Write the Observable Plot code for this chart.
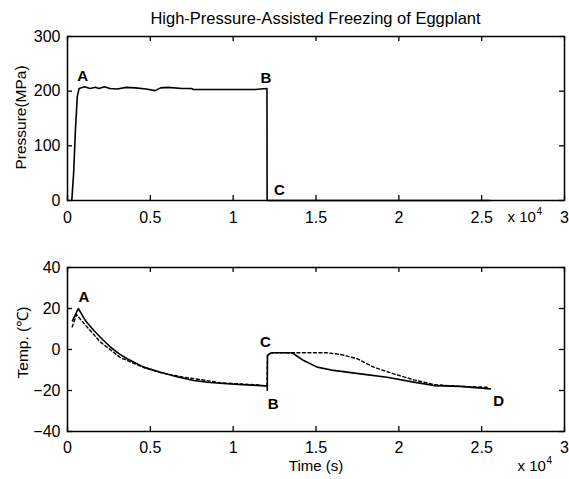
<!DOCTYPE html>
<html><head><meta charset="utf-8">
<script src="https://cdn.jsdelivr.net/npm/d3@7"></script>
<script src="https://cdn.jsdelivr.net/npm/@observablehq/plot@0.6"></script>
<style>
body{margin:0;background:#fff;}
#wrap{position:relative;width:569px;height:479px;overflow:hidden;background:#fff;font-family:"Liberation Sans",Arial,sans-serif;}
#title{position:absolute;top:9px;left:0;width:631px;text-align:center;font-size:16.5px;color:#000;}
#topPanel{position:absolute;left:0;top:0;}
#botPanel{position:absolute;left:0;top:240px;}
</style>
</head><body>
<div id="wrap">
  <div id="topPanel"></div>
  <div id="botPanel"></div>
  <div id="title">High-Pressure-Assisted Freezing of Eggplant</div>
</div>
<script>
// ---- data ----
const xTicks = [0, 5000, 10000, 15000, 20000, 25000, 30000];
const xTickLabels = ["0", "0.5", "1", "1.5", "2", "2.5", "3"];
const pTicks = [0, 100, 200, 300];
const tTicks = [-40, -20, 0, 20, 40];

// pressure trace
const pTime = [260, 370, 480, 590, 700, 1030, 1360, 1690, 1900, 2230, 2560, 3000, 3550, 4100, 4750, 5290, 5620, 6060, 6930, 7480, 7600, 9130, 11320, 12040, 12050, 12100, 25500];
const pValue = [0, 50, 130, 190, 205, 208, 205, 207, 205, 208, 205, 204, 207, 206, 204, 201, 206, 207, 205, 205, 203, 203, 203, 205, 0, 0, 0];

// temperature, solid trace
const tSolidTime = [300, 650, 800, 1090, 1590, 2100, 2600, 3100, 3600, 4600, 5610, 6600, 7620, 8600, 9640, 10600, 11650, 12050, 12060, 12070, 12200, 12400, 13000, 13560, 14260, 15070, 16070, 17680, 19290, 20900, 22110, 23720, 25530];
const tSolidValue = [14, 20, 18, 14, 9.3, 5, 1.1, -2, -4.5, -8.6, -11.1, -13.3, -15.1, -16.1, -16.7, -17.2, -17.6, -17.8, -20, -3, -2, -1.6, -1.6, -1.6, -5.4, -8.6, -10.2, -11.9, -13.5, -15.9, -17.6, -18, -19.2];

// temperature, dashed trace
const tDashTime = [280, 550, 800, 1190, 1990, 3200, 4600, 5610, 7000, 8300, 9300, 11400, 12050, 12070, 12200, 12400, 15670, 16470, 17480, 18490, 19690, 20900, 22110, 23720, 25330];
const tDashValue = [11, 17, 14.5, 10.9, 3.6, -4, -8.8, -11.3, -13.5, -15, -16.3, -17.2, -17.8, -3, -2, -1.6, -1.6, -2.4, -4.5, -8.6, -11.9, -14.8, -17.1, -18, -18.4];

// point labels
const pLabelText = ["A", "B", "C"];
const pLabelTime = [920, 11980, 12790];
const pLabelValue = [227, 224, 18];
const tLabelText = ["A", "B", "C", "D"];
const tLabelTime = [985, 12410, 11950, 26030];
const tLabelValue = [25.5, -26.5, 3.6, -25.2];

// ---- build ----
const FONT = '"Liberation Sans", Arial, sans-serif';
const W = 569, ML = 67, MR = 5, PH = 164;
const PW = W - ML - MR;
const TICK = 5;
const pSeries = pTime.map((t, i) => ({t, v: pValue[i]}));
const sSeries = tSolidTime.map((t, i) => ({t, v: tSolidValue[i]}));
const dSeries = tDashTime.map((t, i) => ({t, v: tDashValue[i]}));
const pLabels = pLabelText.map((s, i) => ({s, t: pLabelTime[i], v: pLabelValue[i]}));
const tLabels = tLabelText.map((s, i) => ({s, t: tLabelTime[i], v: tLabelValue[i]}));
const xFmt = d => xTickLabels[xTicks.indexOf(d)];

function axes(yTicks, xPad) {
  return [
    Plot.axisX({anchor: "bottom", ticks: xTicks, tickFormat: xFmt, tickSize: 0, tickPadding: xPad, label: null, fontSize: 16}),
    Plot.axisY({anchor: "left", ticks: yTicks, tickSize: 0, tickPadding: 7, label: null, fontSize: 16}),
    // inward ticks on all four sides
    Plot.tickX(xTicks, {x: d => d, insetTop: PH - TICK, stroke: "black", strokeWidth: 1.3}),
    Plot.tickX(xTicks, {x: d => d, insetBottom: PH - TICK, stroke: "black", strokeWidth: 1.3}),
    Plot.tickY(yTicks, {y: d => d, insetRight: PW - TICK, stroke: "black", strokeWidth: 1.3}),
    Plot.tickY(yTicks, {y: d => d, insetLeft: PW - TICK, stroke: "black", strokeWidth: 1.3}),
    Plot.frame({stroke: "black", strokeWidth: 1.5})
  ];
}

const common = {
  width: W, marginLeft: ML, marginRight: MR,
  style: {fontFamily: FONT, fontSize: "16px", color: "black", background: "white", overflow: "hidden"}
};

const topChart = Plot.plot({
  ...common,
  height: 240, marginTop: 36, marginBottom: 40,
  x: {domain: [0, 30000]},
  y: {domain: [0, 300]},
  marks: [
    Plot.line(pSeries, {x: "t", y: "v", stroke: "black", strokeWidth: 1.6}),
    Plot.text(pLabels, {x: "t", y: "v", text: "s", fontWeight: "bold", fontSize: 15}),
    Plot.text(["Pressure(MPa)"], {frameAnchor: "left", textAnchor: "middle", rotate: -90, dx: -46, dy: -1, fontSize: 15.5}),
    Plot.text(["x 10"], {frameAnchor: "bottom-right", textAnchor: "start", dx: -57, dy: 21, fontSize: 15}),
    Plot.text(["4"], {frameAnchor: "bottom-right", textAnchor: "start", dx: -28, dy: 14, fontSize: 10}),
    ...axes(pTicks, 11)
  ]
});
document.getElementById("topPanel").appendChild(topChart);

const botChart = Plot.plot({
  ...common,
  height: 239, marginTop: 27, marginBottom: 48,
  x: {domain: [0, 30000]},
  y: {domain: [-40, 40]},
  marks: [
    Plot.line(sSeries, {x: "t", y: "v", stroke: "black", strokeWidth: 1.6}),
    Plot.line(dSeries, {x: "t", y: "v", stroke: "black", strokeWidth: 1.4, strokeDasharray: "3,2.5"}),
    Plot.text(tLabels, {x: "t", y: "v", text: "s", fontWeight: "bold", fontSize: 15}),
    Plot.text(["Temp. (℃)"], {frameAnchor: "left", textAnchor: "middle", rotate: -90, dx: -44, dy: -7, fontSize: 15.5}),
    Plot.text(["Time (s)"], {frameAnchor: "bottom", dy: 39, fontSize: 15}),
    Plot.text(["x 10"], {frameAnchor: "bottom-right", textAnchor: "start", dx: -47, dy: 39, fontSize: 15}),
    Plot.text(["4"], {frameAnchor: "bottom-right", textAnchor: "start", dx: -18, dy: 32, fontSize: 10}),
    ...axes(tTicks, 10)
  ]
});
document.getElementById("botPanel").appendChild(botChart);
</script>
</body></html>
